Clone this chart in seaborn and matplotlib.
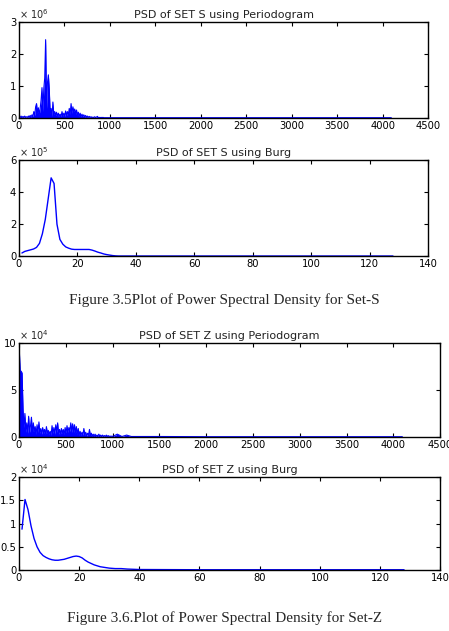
import numpy as np
import seaborn as sns
from matplotlib import pyplot as plt
from matplotlib.ticker import FuncFormatter

# --- Set S, periodogram (values in units of 1e6), bins every 10 up to ~1000, then tail
per_s_freq = list(np.arange(3, 1013, 10)) + [1100, 1300, 1600, 2000, 2500, 3000, 3500, 4096]
per_s_vals = [0.05, 0.02, 0.06, 0.01, 0.05, 0.02, 0.06, 0.02, 0.04, 0.02,
              0.06, 0.03, 0.08, 0.03, 0.10, 0.05, 0.20, 0.08, 0.35, 0.45,
              0.15, 0.32, 0.10, 0.30, 0.55, 0.95, 0.20, 0.92, 1.25, 2.45,
              0.30, 1.10, 1.35, 0.90, 0.15, 0.30, 0.05, 0.50, 0.12, 0.20,
              0.08, 0.18, 0.05, 0.15, 0.06, 0.12, 0.04, 0.20, 0.06, 0.15,
              0.05, 0.22, 0.08, 0.20, 0.10, 0.30, 0.12, 0.45, 0.15, 0.35,
              0.20, 0.28, 0.12, 0.25, 0.08, 0.18, 0.06, 0.15, 0.04, 0.12,
              0.05, 0.10, 0.03, 0.08, 0.03, 0.06, 0.02, 0.05, 0.02, 0.04,
              0.01, 0.03, 0.01, 0.04, 0.01, 0.03, 0.05, 0.01, 0.02, 0.01,
              0.02, 0.01, 0.02, 0.01, 0.01, 0.01, 0.01, 0.01, 0.01, 0.01,
              0.01,
              0.01, 0.01, 0.01, 0.01, 0.01, 0.01, 0.01, 0.01]

# --- Set S, Burg (values in units of 1e5)
burg_s_freq = list(range(1, 35)) + [40, 60, 80, 100, 128]
burg_s_vals = [0.20, 0.30, 0.35, 0.40, 0.45, 0.55, 0.80, 1.40, 2.30, 3.60,
               4.90, 4.55, 2.00, 1.05, 0.75, 0.58, 0.50, 0.44, 0.42, 0.42,
               0.42, 0.42, 0.42, 0.42, 0.38, 0.32, 0.25, 0.20, 0.14, 0.10,
               0.07, 0.04, 0.02, 0.01,
               0.01, 0.01, 0.01, 0.01, 0.01]

# --- Set Z, periodogram (values in units of 1e4)
per_z_freq = list(np.arange(3, 1013, 10)) + [1050, 1100, 1150, 1200, 1500, 2000, 2500, 3000, 3500, 4096]
per_z_vals = [9.3, 7.0, 7.0, 6.8, 3.0, 1.0, 2.5, 0.5, 1.5, 0.4,
              2.2, 0.5, 1.2, 2.1, 0.4, 1.5, 0.6, 1.1, 0.3, 1.3,
              0.5, 1.6, 0.4, 0.9, 0.3, 1.0, 0.4, 0.8, 0.3, 1.1,
              0.4, 0.7, 0.3, 0.6, 0.2, 1.2, 0.4, 1.0, 0.3, 1.3,
              0.5, 1.5, 0.3, 0.8, 0.3, 0.9, 0.4, 0.8, 0.3, 1.0,
              0.4, 1.2, 0.5, 1.0, 0.6, 1.5, 0.5, 1.4, 0.5, 1.3,
              0.4, 1.1, 0.3, 0.9, 0.2, 0.6, 0.2, 0.5, 0.2, 0.9,
              0.2, 0.5, 0.1, 0.4, 0.2, 0.8, 0.1, 0.4, 0.1, 0.3,
              0.1, 0.3, 0.1, 0.2, 0.1, 0.3, 0.1, 0.2, 0.05, 0.2,
              0.05, 0.15, 0.05, 0.2, 0.05, 0.15, 0.05, 0.1, 0.05, 0.1,
              0.05,
              0.3, 0.05, 0.2, 0.05, 0.05, 0.03, 0.03, 0.03, 0.03, 0.03]

# --- Set Z, Burg (values in units of 1e4)
burg_z_freq = list(range(1, 31)) + [32, 34, 36, 40, 60, 128]
burg_z_vals = [0.88, 1.52, 1.30, 0.95, 0.68, 0.50, 0.38, 0.31, 0.27, 0.24,
               0.22, 0.21, 0.21, 0.22, 0.23, 0.25, 0.27, 0.29, 0.30, 0.29,
               0.26, 0.21, 0.17, 0.14, 0.11, 0.09, 0.07, 0.06, 0.05, 0.04,
               0.03, 0.03, 0.02, 0.01, 0.005, 0.005]

sns.set_theme(style="ticks")
plt.rcParams['font.family'] = ['DejaVu Sans']


def draw_panel(ax, freq, vals, scale, exp, title, xmax, xstep, ymax, yticks, lw, fill):
    y = np.array(vals) * scale
    if fill:
        # dense periodogram spikes look like a solid area at this size
        ax.fill_between(freq, 0, y, color='blue', linewidth=0)
    sns.lineplot(x=freq, y=y, ax=ax, color='blue', linewidth=lw)
    ax.set_xlim(0, xmax)
    ax.set_ylim(0, ymax * scale)
    ax.set_xticks(np.arange(0, xmax + 1, xstep))
    ax.set_yticks(np.array(yticks) * scale)
    ax.yaxis.set_major_formatter(FuncFormatter(lambda v, p: f'{v / scale:g}'))
    ax.tick_params(direction='in', top=True, right=True, length=3, width=0.8,
                   labelsize=7.2, pad=2, colors='black')
    for s in ax.spines.values():
        s.set_color('black')
        s.set_linewidth(1.0)
    ax.set_xlabel('')
    ax.set_ylabel('')
    ax.set_title(title, fontsize=8, pad=3, color='#222222')
    ax.text(0, 1.01, r'× 10$^{%d}$' % exp, transform=ax.transAxes,
            fontsize=7, ha='left', va='bottom')


fig = plt.figure(figsize=(4.49, 6.31), dpi=100)

ax1 = fig.add_axes([0.0423, 0.813, 0.911, 0.152])
draw_panel(ax1, per_s_freq, per_s_vals, 1e6, 6, 'PSD of SET S using Periodogram',
           4500, 500, 3, [0, 1, 2, 3], 0.8, True)

ax2 = fig.add_axes([0.0423, 0.594, 0.911, 0.152])
draw_panel(ax2, burg_s_freq, burg_s_vals, 1e5, 5, 'PSD of SET S using Burg',
           140, 20, 6, [0, 2, 4, 6], 1.0, False)

ax3 = fig.add_axes([0.0423, 0.3075, 0.938, 0.149])
draw_panel(ax3, per_z_freq, per_z_vals, 1e4, 4, 'PSD of SET Z using Periodogram',
           4500, 500, 10, [0, 5, 10], 0.8, True)

ax4 = fig.add_axes([0.0423, 0.0967, 0.938, 0.147])
draw_panel(ax4, burg_z_freq, burg_z_vals, 1e4, 4, 'PSD of SET Z using Burg',
           140, 20, 2, [0, 0.5, 1, 1.5, 2], 1.0, False)

fig.text(0.5, 1 - 300 / 631, 'Figure 3.5Plot of Power Spectral Density for Set-S',
         family='Liberation Serif', fontsize=11, ha='center', va='center')
fig.text(0.5, 1 - 618 / 631, 'Figure 3.6.Plot of Power Spectral Density for Set-Z',
         family='Liberation Serif', fontsize=11, ha='center', va='center')

fig.savefig('out.png', dpi=100)
